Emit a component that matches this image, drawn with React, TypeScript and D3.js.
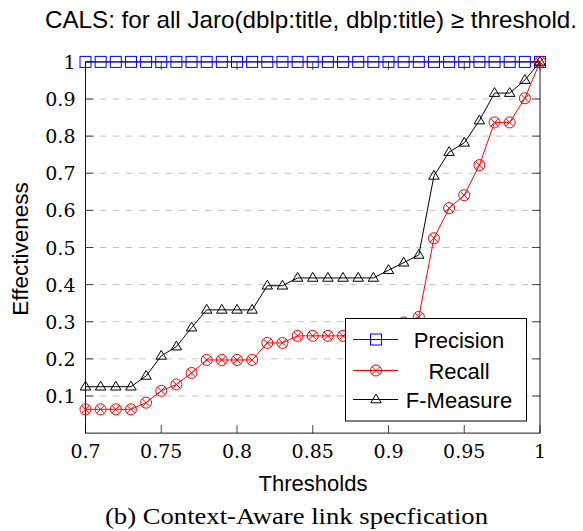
import React from "react";
import * as d3 from "d3";

const thresholds = [0.70, 0.71, 0.72, 0.73, 0.74, 0.75, 0.76, 0.77, 0.78, 0.79, 0.80, 0.81, 0.82, 0.83, 0.84, 0.85, 0.86, 0.87, 0.88, 0.89, 0.90, 0.91, 0.92, 0.93, 0.94, 0.95, 0.96, 0.97, 0.98, 0.99, 1.00];
const precision = [1, 1, 1, 1, 1, 1, 1, 1, 1, 1, 1, 1, 1, 1, 1, 1, 1, 1, 1, 1, 1, 1, 1, 1, 1, 1, 1, 1, 1, 1, 1];
const recall = [0.064, 0.064, 0.064, 0.064, 0.082, 0.114, 0.131, 0.162, 0.197, 0.197, 0.197, 0.197, 0.243, 0.243, 0.262, 0.262, 0.262, 0.262, 0.263, 0.263, 0.281, 0.298, 0.313, 0.525, 0.606, 0.641, 0.722, 0.837, 0.837, 0.902, 1.0];
const fMeasure = [0.125, 0.125, 0.125, 0.125, 0.154, 0.208, 0.233, 0.284, 0.332, 0.332, 0.332, 0.332, 0.397, 0.397, 0.418, 0.418, 0.418, 0.418, 0.418, 0.418, 0.439, 0.459, 0.480, 0.693, 0.757, 0.782, 0.842, 0.916, 0.916, 0.951, 1.0];

const xTicks = [0.7, 0.75, 0.8, 0.85, 0.9, 0.95, 1];
const xTickLabels = ["0.7", "0.75", "0.8", "0.85", "0.9", "0.95", "1"];
const yTicks = [0.1, 0.2, 0.3, 0.4, 0.5, 0.6, 0.7, 0.8, 0.9, 1];
const yTickLabels = ["0.1", "0.2", "0.3", "0.4", "0.5", "0.6", "0.7", "0.8", "0.9", "1"];
const seriesNames = ["Precision", "Recall", "F-Measure"];

const W = 583;
const H = 531;
const left = 85.5;
const right = 540;
const top = 61.9;
const bottom = 433.1;

const SANS = "'Liberation Sans', Arial, sans-serif";
const SERIF = "'Liberation Serif', 'Times New Roman', serif";
const TICKFONT = "'DejaVu Serif', serif";

function Square({ x, y }: { x: number; y: number }) {
  return <rect x={x - 5.5} y={y - 5.5} width={11} height={11} fill="none" stroke="#0000ff" strokeWidth={1} />;
}
function CircleX({ x, y }: { x: number; y: number }) {
  const r = 5.5;
  const d = r * Math.SQRT1_2;
  return (
    <g stroke="#ff0000" strokeWidth={1} fill="none">
      <circle cx={x} cy={y} r={r} />
      <line x1={x - d} y1={y - d} x2={x + d} y2={y + d} />
      <line x1={x - d} y1={y + d} x2={x + d} y2={y - d} />
    </g>
  );
}
function Triangle({ x, y }: { x: number; y: number }) {
  const s = 5.5;
  const p = `${x},${y - s} ${x + s * 0.95},${y + s * 0.6} ${x - s * 0.95},${y + s * 0.6}`;
  return <polygon points={p} fill="none" stroke="#000" strokeWidth={1} />;
}

export default function App() {
  const x = d3.scaleLinear().domain([0.7, 1]).range([left, right]);
  const y = d3.scaleLinear().domain([0, 1]).range([bottom, top]);
  const line = d3
    .line<number>()
    .x((_, i) => x(thresholds[i]))
    .y((v) => y(v));

  const tickLen = 8;
  const legendX = 345.5;
  const legendY = 318.5;
  const legendW = 181;
  const legendH = 102.5;
  const rowsY = [339.5, 370.5, 399.5];
  const colors = ["#0000ff", "#ff0000", "#000000"];

  return (
    <svg width={W} height={H} style={{ position: "absolute", left: 0, top: 0, background: "#fff" }}>
      <rect x={0} y={0} width={W} height={H} fill="#fff" />
      {/* grid */}
      {yTicks.slice(0, -1).map((t) => (
        <line key={"g" + t} x1={left} x2={right} y1={y(t)} y2={y(t)} stroke="#c4c4c4" strokeWidth={1} strokeDasharray="6.6,6.6" strokeDashoffset={-14} />
      ))}
      {/* ticks */}
      <g stroke="#333" strokeWidth={0.9}>
        {yTicks.map((t) => (
          <g key={"yt" + t}>
            <line x1={left} x2={left + tickLen} y1={y(t)} y2={y(t)} />
            <line x1={right} x2={right - tickLen} y1={y(t)} y2={y(t)} />
          </g>
        ))}
        {xTicks.map((t) => (
          <g key={"xt" + t}>
            <line x1={x(t)} x2={x(t)} y1={bottom} y2={bottom - tickLen} />
            <line x1={x(t)} x2={x(t)} y1={top} y2={top + tickLen} />
          </g>
        ))}
      </g>
      {/* frame */}
      <rect x={left} y={top} width={right - left} height={bottom - top} fill="none" stroke="#000" strokeWidth={0.9} />
      {/* series */}
      <path d={line(precision) || ""} fill="none" stroke="#0000ff" strokeWidth={1} />
      {precision.map((v, i) => (
        <Square key={"p" + i} x={x(thresholds[i])} y={y(v)} />
      ))}
      <path d={line(recall) || ""} fill="none" stroke="#ff0000" strokeWidth={1} />
      {recall.map((v, i) => (
        <CircleX key={"r" + i} x={x(thresholds[i])} y={y(v)} />
      ))}
      <path d={line(fMeasure) || ""} fill="none" stroke="#000" strokeWidth={1} />
      {fMeasure.map((v, i) => (
        <Triangle key={"f" + i} x={x(thresholds[i])} y={y(v)} />
      ))}
      {/* tick labels */}
      {xTicks.map((t, i) => (
        <text key={"xl" + t} x={x(t)} y={457.5} textAnchor="middle" fontFamily={TICKFONT} fontSize={19} fill="#000">
          {xTickLabels[i]}
        </text>
      ))}
      {yTicks.map((t, i) => (
        <text key={"yl" + t} x={75.5} y={y(t) + 7} textAnchor="end" fontFamily={TICKFONT} fontSize={19} fill="#000">
          {yTickLabels[i]}
        </text>
      ))}
      {/* axis titles */}
      <text x={313} y={491} textAnchor="middle" fontFamily={SANS} fontSize={22} fill="#000">
        Thresholds
      </text>
      <text transform="translate(28,249) rotate(-90)" textAnchor="middle" fontFamily={SANS} fontSize={22.5} fill="#000">
        Effectiveness
      </text>
      <text x={311} y={28} textAnchor="middle" fontFamily={SANS} fontSize={24} fill="#000" textLength={532} lengthAdjust="spacingAndGlyphs">
        CALS: for all Jaro(dblp:title, dblp:title) ≥ threshold.
      </text>
      <text x={296.5} y={524} textAnchor="middle" fontFamily={SERIF} fontSize={23} fill="#000" textLength={383} lengthAdjust="spacingAndGlyphs">
        (b) Context-Aware link specfication
      </text>
      {/* legend */}
      <rect x={legendX} y={legendY} width={legendW} height={legendH} fill="#fff" stroke="#000" strokeWidth={1} />
      {seriesNames.map((name, i) => (
        <g key={"lg" + name}>
          <line x1={353} x2={398} y1={rowsY[i]} y2={rowsY[i]} stroke={colors[i]} strokeWidth={1} />
          {i === 0 && <Square x={376} y={rowsY[i]} />}
          {i === 1 && <CircleX x={376} y={rowsY[i]} />}
          {i === 2 && <Triangle x={376} y={rowsY[i]} />}
          <text x={459} y={rowsY[i] + 8} textAnchor="middle" fontFamily={SANS} fontSize={22} fill="#000">
            {name}
          </text>
        </g>
      ))}
    </svg>
  );
}
